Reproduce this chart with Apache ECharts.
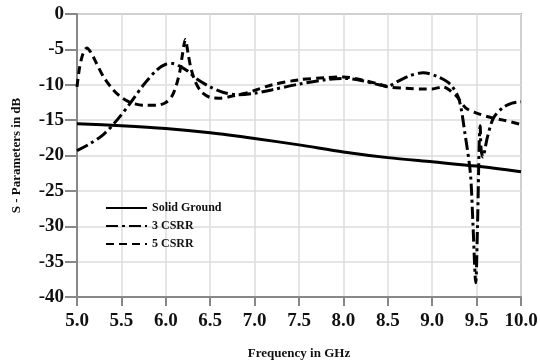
<!DOCTYPE html>
<html lang="en">
<head>
    <meta charset="UTF-8">
    <title>S-Parameters</title>
    <script src="https://cdn.jsdelivr.net/npm/echarts@6/dist/echarts.min.js"></script>
    <style>body{margin:0;background:#fff;}</style>
</head>
<body>
    <div id="main" style="width:540px;height:364px;"></div>
    <script type="text/javascript">
        const names = ['Solid Ground', '3 CSRR', '5 CSRR']
        const xTicks = [5.0, 10.0, 0.5]
        const yTicks = [-40, 0, 5]

        // Solid Ground
        const freqSolid = [5.0, 5.5, 6.0, 6.5, 7.0, 7.5, 8.0, 8.5, 9.0, 9.5, 10.0]
        const sSolid = [-15.5, -15.8, -16.2, -16.8, -17.6, -18.5, -19.5, -20.3, -20.9, -21.5, -22.3]

        // 3 CSRR
        const freq3 = [5.0, 5.15, 5.3, 5.45, 5.6, 5.75, 5.9, 6.0, 6.08, 6.16, 6.25, 6.35, 6.5, 6.65, 6.8, 7.0, 7.2, 7.5, 7.8, 8.0,
            8.2, 8.4, 8.5, 8.6, 8.75, 8.9, 9.05, 9.2, 9.3, 9.37, 9.43, 9.46, 9.49, 9.51, 9.53, 9.54, 9.55, 9.57, 9.62, 9.69,
            9.8, 9.9, 10.0]
        const s3 = [-19.3, -18.3, -17.0, -15.0, -12.6, -10.0, -7.9, -7.1, -7.0, -7.4, -8.1, -9.2, -10.3, -11.1, -11.4, -11.2, -10.7, -9.9, -9.3, -9.1,
            -9.4, -10.0, -10.2, -9.6, -8.7, -8.3, -8.8, -9.9, -12.0, -17.0, -22.5, -30, -38, -30, -18, -15.8, -19, -20.2, -17.5, -14.7,
            -13.2, -12.6, -12.4]

        // 5 CSRR
        const freq5 = [5.0, 5.03, 5.07, 5.11, 5.16, 5.22, 5.3, 5.4, 5.5, 5.6, 5.75, 5.9, 6.0, 6.07, 6.12, 6.16, 6.19, 6.22, 6.25, 6.28,
            6.33, 6.4, 6.5, 6.6, 6.75, 6.9, 7.0, 7.2, 7.5, 7.8, 8.0, 8.2, 8.4, 8.5, 8.7, 8.9, 9.0, 9.12, 9.2, 9.28,
            9.38, 9.5, 9.65, 9.8, 10.0]
        const s5 = [-10.3, -7.5, -5.5, -4.8, -5.5, -7.0, -8.9, -10.6, -11.8, -12.5, -12.9, -12.9, -12.5, -11.6, -10.0, -8.0, -5.5, -3.6, -5.5, -7.5,
            -9.5, -11.0, -11.8, -11.9, -11.6, -11.2, -10.8, -10.0, -9.3, -9.0, -8.9, -9.3, -9.9, -10.3, -10.5, -10.6, -10.6, -10.3, -10.8, -11.7,
            -13.3, -14.0, -14.6, -15.0, -15.6]

        const zip = (xs, ys) => xs.map((x, i) => [x, ys[i]])
        const serif = 'Liberation Serif'

        var myChart = echarts.init(document.getElementById('main'))

        var option = {
            animation: false,
            backgroundColor: '#fff',
            grid: {
                left: 77, right: 19, top: 14, bottom: 67,
                outerBoundsMode: 'none',
                containLabel: false,
                show: true,
                borderColor: '#aaa',
                borderWidth: 2
            },
            legend: {
                orient: 'vertical',
                left: 100,
                top: 197,
                itemWidth: 41,
                itemHeight: 12,
                itemGap: 6,
                data: names,
                itemStyle: { opacity: 0 },
                textStyle: { fontFamily: serif, fontWeight: 'bold', fontSize: 12, color: '#111' }
            },
            xAxis: {
                type: 'value',
                min: xTicks[0],
                max: xTicks[1],
                interval: xTicks[2],
                name: 'Frequency in GHz',
                nameLocation: 'middle',
                nameGap: 50,
                nameTextStyle: { fontFamily: serif, fontWeight: 'bold', fontSize: 13, color: '#111' },
                axisLine: { onZero: false, lineStyle: { color: '#888', width: 2 } },
                axisTick: { show: true, length: 9, lineStyle: { color: '#888', width: 2 } },
                axisLabel: {
                    fontFamily: serif, fontWeight: 'bold', fontSize: 19, color: '#111', margin: 15,
                    formatter: v => v.toFixed(1)
                },
                splitLine: { lineStyle: { color: '#ddd', width: 1.5 } }
            },
            yAxis: {
                type: 'value',
                min: yTicks[0],
                max: yTicks[1],
                interval: yTicks[2],
                name: 'S - Parameters in dB',
                nameLocation: 'middle',
                nameGap: 54,
                nameTextStyle: { fontFamily: serif, fontWeight: 'bold', fontSize: 13, color: '#111' },
                axisLine: { show: true, onZero: false, lineStyle: { color: '#888', width: 2 } },
                axisTick: { show: true, length: 12, lineStyle: { color: '#888', width: 2 } },
                axisLabel: { fontFamily: serif, fontWeight: 'bold', fontSize: 19, color: '#111', margin: 13 },
                splitLine: { lineStyle: { color: '#ddd', width: 1.5 } }
            },
            series: [
                {
                    name: names[0], type: 'line', symbol: 'none', smooth: 0.3,
                    lineStyle: { color: '#000', width: 3, type: 'solid' },
                    itemStyle: { color: '#000' },
                    data: zip(freqSolid, sSolid)
                },
                {
                    name: names[1], type: 'line', symbol: 'none', smooth: 0.3,
                    lineStyle: { color: '#000', width: 3, type: [12, 4, 3, 4] },
                    itemStyle: { color: '#000' },
                    data: zip(freq3, s3)
                },
                {
                    name: names[2], type: 'line', symbol: 'none', smooth: 0.3,
                    lineStyle: { color: '#000', width: 3, type: [8, 5] },
                    itemStyle: { color: '#000' },
                    data: zip(freq5, s5)
                }
            ]
        }

        myChart.setOption(option)
    </script>
</body>
</html>
